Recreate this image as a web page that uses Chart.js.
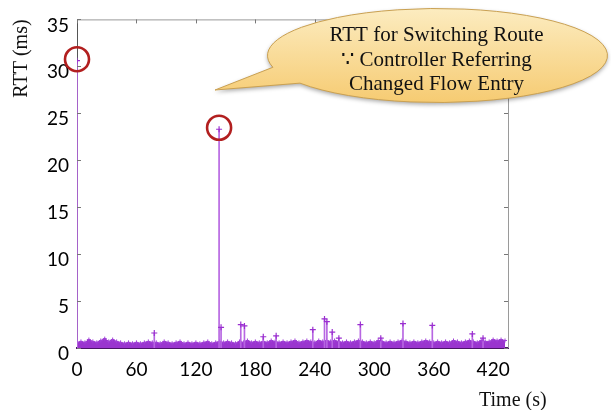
<!DOCTYPE html>
<html>
<head>
<meta charset="utf-8">
<script src="https://cdn.jsdelivr.net/npm/chart.js@4.4.1/dist/chart.umd.min.js"></script>
<style>
  html, body { margin: 0; padding: 0; background: #fff; }
  #wrap { width: 611px; height: 410px; position: relative; }
</style>
</head>
<body>
<div id="wrap"><canvas id="c" width="611" height="410"></canvas></div>
<script>
// ---- Data ----
const xTickValues = [0, 60, 120, 180, 240, 300, 360, 420];
const yTickValues = [0, 5, 10, 15, 20, 25, 30, 35];

// dense background RTT samples (time s, RTT ms)
const baseTimes = [0,4,8,12,16,20,24,28,32,36,40,44,48,52,56,60,64,68,72,76,80,84,88,92,96,100,104,108,112,116,120,124,128,132,136,140,144,148,152,156,160,164,168,172,176,180,184,188,192,196,200,204,208,212,216,220,224,228,232,236,240,244,248,252,256,260,264,268,272,276,280,284,288,292,296,300,304,308,312,316,320,324,328,332,336,340,344,348,352,356,360,364,368,372,376,380,384,388,392,396,400,404,408,412,416,420,424,428,432];
const baseRtt = [0.6,0.7,0.6,0.9,0.7,0.6,0.8,1.0,0.7,0.9,0.7,0.6,0.5,0.6,0.5,0.6,0.5,0.6,0.7,0.6,0.6,0.5,0.7,0.6,0.5,0.6,0.7,0.5,0.6,0.5,0.6,0.5,0.6,0.7,0.5,0.6,0.7,0.6,0.7,0.6,0.5,0.7,0.6,0.8,0.6,0.7,0.6,0.7,0.6,0.8,0.7,0.6,0.7,0.6,0.7,0.8,0.6,0.7,0.8,0.7,0.6,0.8,0.7,0.8,0.7,0.8,0.7,0.6,0.7,0.6,0.7,0.8,0.7,0.6,0.7,0.6,0.8,0.7,0.6,0.7,0.6,0.7,0.8,0.7,0.6,0.7,0.6,0.7,0.8,0.7,0.6,0.7,0.6,0.7,0.6,0.8,0.7,0.6,0.7,0.8,0.7,0.6,0.8,0.7,0.7,0.9,0.8,0.9,0.8];

// individual RTT spikes (time s, RTT ms)
const spikeTimes = [0, 78, 143.4, 145.4, 165.3, 169, 188, 201, 238, 249.8, 252.2, 257.6, 264.3, 286, 306.6, 329, 358.6, 399, 409.8];
const spikeRtt   = [30.6, 1.6, 23.3, 2.2, 2.5, 2.35, 1.2, 1.3, 1.95, 3.1, 2.8, 1.7, 1.05, 2.5, 1.05, 2.6, 2.4, 1.5, 1.05];

// highlighted points (indices into spike arrays)
const circledSpikes = [0, 2];

const calloutLines = ["RTT for Switching Route", "\u2235 Controller Referring", "Changed Flow Entry"];
const xAxisTitle = "Time (s)";
const yAxisTitle = "RTT (ms)";

// ---- Build datasets ----
const basePts = baseTimes.map((t, i) => ({ x: t, y: baseRtt[i] }));
const spikePts = spikeTimes.map((t, i) => ({ x: t, y: spikeRtt[i] }));

const decor = {
  id: 'decor',
  afterDraw(chart) {
    const { ctx, chartArea: a, scales: { x, y } } = chart;
    ctx.save();
    // frame top & right
    ctx.strokeStyle = '#9a9a9a';
    ctx.lineWidth = 1;
    ctx.beginPath();
    ctx.moveTo(a.left, a.top + 0.5); ctx.lineTo(a.right + 0.5, a.top + 0.5);
    ctx.lineTo(a.right + 0.5, a.bottom);
    ctx.stroke();
    // inward ticks
    ctx.strokeStyle = '#777';
    ctx.beginPath();
    yTickValues.forEach(v => {
      const py = Math.round(y.getPixelForValue(v)) + 0.5;
      ctx.moveTo(a.left, py); ctx.lineTo(a.left + 4, py);
      ctx.moveTo(a.right, py); ctx.lineTo(a.right - 4, py);
    });
    xTickValues.forEach(v => {
      const px = Math.round(x.getPixelForValue(v)) + 0.5;
      ctx.moveTo(px, a.top); ctx.lineTo(px, a.top + 4);
    });
    ctx.stroke();

    // red circles around highlighted points
    ctx.strokeStyle = '#b21f1f';
    ctx.lineWidth = 2.6;
    circledSpikes.forEach(i => {
      const px = x.getPixelForValue(spikeTimes[i]);
      const py = y.getPixelForValue(spikeRtt[i]);
      ctx.beginPath();
      ctx.arc(px, py - 1.5, 12, 0, Math.PI * 2);
      ctx.stroke();
    });

    // callout bubble
    const cx = 437.5, cy = 55.5, rx = 170, ry = 47;
    const a1 = 144 * Math.PI / 180, a2 = 165.5 * Math.PI / 180;
    const tip = { x: 215, y: 90 };
    ctx.beginPath();
    ctx.moveTo(tip.x, tip.y);
    ctx.lineTo(cx + rx * Math.cos(a1), cy + ry * Math.sin(a1));
    ctx.ellipse(cx, cy, rx, ry, 0, a1, a2, true);
    ctx.closePath();
    const g = ctx.createLinearGradient(0, cy - ry, 0, cy + ry);
    g.addColorStop(0, '#fcecc0');
    g.addColorStop(1, '#f6cb72');
    ctx.fillStyle = g;
    ctx.shadowColor = 'rgba(0,0,0,0.35)';
    ctx.shadowBlur = 4;
    ctx.shadowOffsetY = 2;
    ctx.fill();
    ctx.shadowColor = 'transparent';
    ctx.strokeStyle = '#c9a052';
    ctx.lineWidth = 1;
    ctx.stroke();

    ctx.fillStyle = '#111';
    ctx.font = '21px "Liberation Serif", "DejaVu Serif", serif';
    ctx.textAlign = 'center';
    ctx.textBaseline = 'alphabetic';
    const baselines = [41, 66, 90];
    calloutLines.forEach((s, i) => ctx.fillText(s, cx - 1, baselines[i]));

    // x axis title
    ctx.font = '20px "Liberation Serif", serif';
    ctx.textAlign = 'left';
    ctx.fillText(xAxisTitle, 479, 406);
    ctx.restore();
  }
};

new Chart(document.getElementById('c'), {
  type: 'scatter',
  data: {
    datasets: [
      {
        type: 'scatter',
        data: spikePts,
        order: 0,
        pointStyle: 'cross',
        pointRadius: 3,
        pointBorderWidth: 1.2,
        borderColor: '#9a2fd0',
        backgroundColor: '#9a2fd0',
        showLine: false
      },
      {
        type: 'bar',
        data: spikePts,
        order: 1,
        barThickness: 1,
        backgroundColor: '#b766e2',
        borderWidth: 0
      },
      {
        type: 'line',
        data: basePts,
        order: 2,
        fill: 'origin',
        backgroundColor: '#9a35cf',
        borderColor: '#9a35cf',
        borderWidth: 1,
        pointStyle: 'cross',
        pointRadius: 2,
        pointBorderWidth: 1,
        pointBorderColor: '#a040d8',
        tension: 0
      }
    ]
  },
  options: {
    responsive: false,
    animation: false,
    events: [],
    layout: { padding: { top: 18, right: 103, bottom: 0, left: 0 } },
    plugins: { legend: { display: false }, tooltip: { enabled: false } },
    scales: {
      x: {
        type: 'linear',
        min: 0,
        max: 435,
        offset: false,
        afterFit(s) { s.height = 62; },
        grid: { display: false, drawTicks: false, offset: false },
        border: { display: true, color: '#4b1468', width: 2 },
        afterBuildTicks(s) { s.ticks = xTickValues.map(v => ({ value: v })); },
        ticks: {
          autoSkip: false,
          maxRotation: 0,
          padding: 10,
          color: '#000',
          font: { family: 'Lato', size: 19 }
        }
      },
      y: {
        type: 'linear',
        min: 0,
        max: 35,
        afterFit(s) { s.width = 77; },
        grid: { display: false, drawTicks: false },
        border: { display: true, color: '#555', width: 1 },
        afterBuildTicks(s) { s.ticks = yTickValues.map(v => ({ value: v })); },
        ticks: {
          padding: 8,
          labelOffset: 6,
          color: '#000',
          font: { family: 'Lato', size: 19 }
        },
        title: {
          display: true,
          text: yAxisTitle,
          align: 'end',
          color: '#111',
          font: { family: '"Liberation Serif"', size: 20 },
          padding: { top: 10, bottom: 0 }
        }
      }
    }
  },
  plugins: [decor]
});
</script>
</body>
</html>
